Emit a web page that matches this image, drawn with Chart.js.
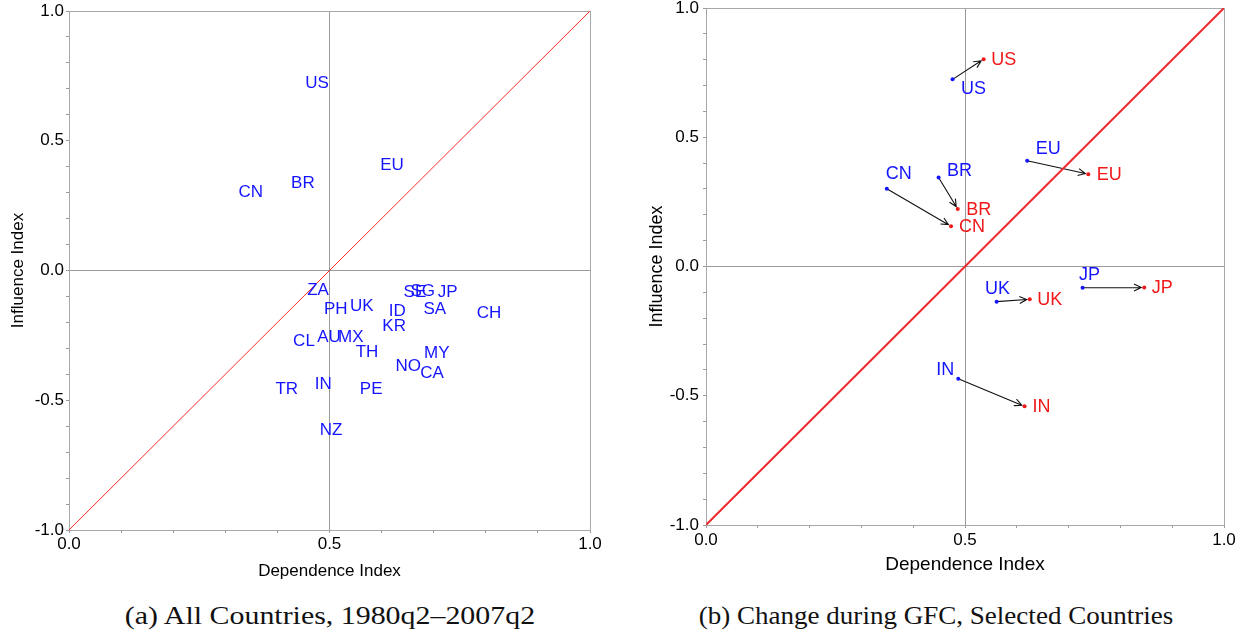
<!DOCTYPE html>
<html>
<head>
<meta charset="utf-8">
<script src="https://cdn.jsdelivr.net/npm/chart.js@4.4.1/dist/chart.umd.min.js"></script>
<style>
  html, body { margin: 0; padding: 0; background: #fff; }
  body { width: 1250px; height: 636px; position: relative; overflow: hidden; }
  .box { position: absolute; top: 0; height: 600px; }
  .caption { position: absolute; top: 601px; width: 640px; font-family: 'Liberation Serif', serif; font-size: 26px; color: #111; text-align: center; white-space: nowrap; }
</style>
</head>
<body>
<div class="box" style="left:0;width:620px"><canvas id="all"></canvas></div>
<div class="box" style="left:620px;width:630px"><canvas id="gfc"></canvas></div>
<div class="caption" style="left:10px;transform:scaleX(1.15)">(a) All Countries, 1980q2–2007q2</div>
<div class="caption" style="left:616px;transform:scaleX(1.04)">(b) Change during GFC, Selected Countries</div>
<script>
// (a) all countries, 1980q2-2007q2
const countries = ['US', 'EU', 'BR', 'CN', 'ZA', 'SE', 'SG', 'JP', 'PH', 'UK', 'ID', 'SA', 'CH',
  'KR', 'CL', 'AU', 'MX', 'TH', 'MY', 'NO', 'CA', 'TR', 'IN', 'PE', 'NZ']
const dependence = [0.476, 0.620, 0.449, 0.349, 0.478, 0.664, 0.679, 0.727, 0.512, 0.562, 0.630, 0.702, 0.806,
  0.624, 0.451, 0.499, 0.541, 0.572, 0.706, 0.651, 0.697, 0.418, 0.488, 0.580, 0.503]
const influence = [0.723, 0.407, 0.337, 0.302, -0.075, -0.083, -0.079, -0.083, -0.148, -0.137, -0.156, -0.148, -0.164,
  -0.214, -0.272, -0.256, -0.256, -0.314, -0.318, -0.368, -0.395, -0.457, -0.437, -0.457, -0.615]

// (b) change during the GFC, selected countries
const gfcCountries = ['US', 'BR', 'CN', 'EU', 'UK', 'JP', 'IN']
const depBefore = [0.476, 0.449, 0.349, 0.620, 0.561, 0.727, 0.487]
const infBefore = [0.724, 0.344, 0.301, 0.409, -0.136, -0.082, -0.434]
const depAfter = [0.536, 0.486, 0.473, 0.738, 0.625, 0.846, 0.615]
const infAfter = [0.802, 0.222, 0.156, 0.357, -0.127, -0.081, -0.541]

// 45 degree line
const diagX = [0, 1]
const diagY = [-1, 1]

const sans = "'Liberation Sans', Arial, sans-serif"
const blue = '#1414ff'
const red = '#f01818'
const frameColor = '#a8a8a8'
const midColor = '#9a9a9a'

// label offsets in px (blue = before, red = after)
const blueOffset = { US: [21, 10], BR: [21, -7], CN: [12, -15], EU: [21, -12], UK: [1, -13], JP: [7, -13], IN: [-13, -9] }
const redOffset = { US: [20, 1], BR: [21, 1], CN: [21, 1], EU: [21, 1], UK: [20, 1], JP: [18, 1], IN: [17, 1] }

const toPoints = (xs, ys) => xs.map((x, i) => ({ x: x, y: ys[i] }))

const makeScale = (axis, cfg) => ({
  type: 'linear',
  min: axis === 'x' ? 0 : -1,
  max: 1,
  border: { display: true, color: frameColor, width: 1 },
  grid: {
    color: ctx => (ctx.tick && Math.abs(ctx.tick.value - (axis === 'x' ? 0.5 : 0)) < 1e-6) ? midColor : 'rgba(0,0,0,0)',
    tickColor: midColor,
    tickLength: 3,
    lineWidth: 1
  },
  ticks: {
    stepSize: 0.1,
    autoSkip: false,
    maxRotation: 0,
    padding: cfg.tickPad,
    color: '#000',
    font: { family: sans, size: cfg.tickSize },
    callback: v => Math.round(v * 10) % 5 === 0 ? v.toFixed(1) : ''
  },
  title: {
    display: true,
    text: cfg.title,
    color: '#000',
    font: { family: sans, size: cfg.titleSize },
    padding: cfg.titlePad
  },
  afterFit: s => {
    if (axis === 'x') s.height = cfg.size
    else s.width = cfg.size
    s.paddingTop = s.paddingBottom = s.paddingLeft = s.paddingRight = 0
  }
})

const framePlugin = {
  id: 'frame',
  beforeDatasetsDraw(chart) {
    const a = chart.chartArea
    const c = chart.ctx
    c.save()
    c.strokeStyle = frameColor
    c.lineWidth = 1
    c.strokeRect(Math.round(a.left) + 0.5, Math.round(a.top) + 0.5, Math.round(a.right - a.left), Math.round(a.bottom - a.top))
    c.restore()
  }
}

const drawLabel = (c, text, x, y, color, size) => {
  c.fillStyle = color
  c.font = size + 'px ' + sans
  c.textAlign = 'center'
  c.textBaseline = 'middle'
  c.fillText(text, x, y)
}

const baseOptions = (xCfg, yCfg, padding) => ({
  responsive: true,
  maintainAspectRatio: false,
  animation: false,
  events: [],
  layout: { padding: padding },
  plugins: { legend: { display: false }, tooltip: { enabled: false } },
  scales: { x: makeScale('x', xCfg), y: makeScale('y', yCfg) }
})

// panel (a)
new Chart(document.getElementById('all'), {
  type: 'scatter',
  data: {
    datasets: [
      { type: 'line', data: toPoints(diagX, diagY), borderColor: '#ff2a2a', borderWidth: 1, pointRadius: 0 },
      { data: toPoints(dependence, influence), pointRadius: 0 }
    ]
  },
  options: baseOptions(
    { title: 'Dependence Index', tickSize: 17, titleSize: 17, tickPad: 1, titlePad: { top: 0, bottom: 18 }, size: 70 },
    { title: 'Influence Index', tickSize: 17, titleSize: 17, tickPad: 2, titlePad: { top: 8, bottom: 0 }, size: 69 },
    { top: 11, right: 30, left: 0, bottom: 0 }
  ),
  plugins: [framePlugin, {
    id: 'countryLabels',
    afterDatasetsDraw(chart) {
      const c = chart.ctx
      const meta = chart.getDatasetMeta(1)
      c.save()
      meta.data.forEach((pt, i) => drawLabel(c, countries[i], pt.x, pt.y, blue, 17))
      c.restore()
    }
  }]
})

// panel (b)
new Chart(document.getElementById('gfc'), {
  type: 'scatter',
  data: {
    datasets: [
      { type: 'line', data: toPoints(diagX, diagY), borderColor: '#ee2a30', borderWidth: 2, pointRadius: 0 },
      { data: toPoints(depBefore, infBefore), pointRadius: 2, backgroundColor: blue, borderWidth: 0 },
      { data: toPoints(depAfter, infAfter), pointRadius: 2, backgroundColor: red, borderWidth: 0 }
    ]
  },
  options: baseOptions(
    { title: 'Dependence Index', tickSize: 17, titleSize: 19, tickPad: 2, titlePad: { top: 0, bottom: 24 }, size: 75 },
    { title: 'Influence Index', tickSize: 17, titleSize: 18, tickPad: 4, titlePad: { top: 26, bottom: 0 }, size: 86 },
    { top: 8, right: 26, left: 0, bottom: 0 }
  ),
  plugins: [framePlugin, {
    id: 'arrows',
    beforeDatasetsDraw(chart) {
      const c = chart.ctx
      const from = chart.getDatasetMeta(1).data
      const to = chart.getDatasetMeta(2).data
      c.save()
      c.strokeStyle = '#111'
      c.lineWidth = 1.1
      from.forEach((p0, i) => {
        const p1 = to[i]
        const ang = Math.atan2(p1.y - p0.y, p1.x - p0.x)
        const ex = p1.x - 3 * Math.cos(ang)
        const ey = p1.y - 3 * Math.sin(ang)
        c.beginPath()
        c.moveTo(p0.x, p0.y)
        c.lineTo(ex, ey)
        c.moveTo(ex - 8 * Math.cos(ang - 0.45), ey - 8 * Math.sin(ang - 0.45))
        c.lineTo(ex, ey)
        c.lineTo(ex - 8 * Math.cos(ang + 0.45), ey - 8 * Math.sin(ang + 0.45))
        c.stroke()
      })
      c.restore()
    },
    afterDatasetsDraw(chart) {
      const c = chart.ctx
      const from = chart.getDatasetMeta(1).data
      const to = chart.getDatasetMeta(2).data
      c.save()
      gfcCountries.forEach((name, i) => {
        const b = blueOffset[name]
        const r = redOffset[name]
        drawLabel(c, name, from[i].x + b[0], from[i].y + b[1], blue, 18)
        drawLabel(c, name, to[i].x + r[0], to[i].y + r[1], red, 18)
      })
      c.restore()
    }
  }]
})
</script>
</body>
</html>
